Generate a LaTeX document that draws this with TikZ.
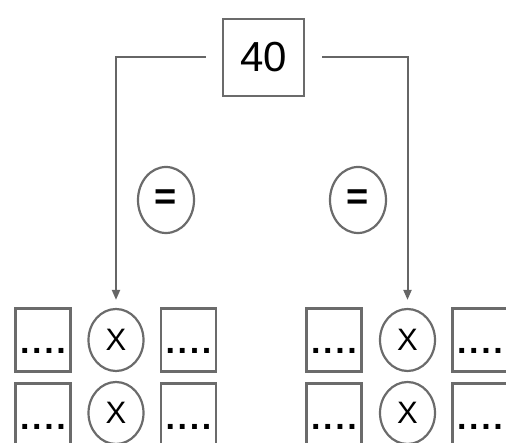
\documentclass[tikz,border=0pt]{standalone}
\usepackage{fontspec}
\setmainfont{Liberation Sans}
\usetikzlibrary{shapes.geometric,arrows.meta}
\begin{document}
\begin{tikzpicture}[x=1pt,y=-1pt,
  ln/.style={draw=black!58, line width=2.2pt},
  sq/.style={ln, rectangle, minimum width=55pt, minimum height=63pt, inner sep=0pt, fill=white,
    font=\fontsize{34}{34}\bfseries},
  ov/.style={ln, ellipse, minimum width=55pt, minimum height=62pt, inner sep=0pt,
    font=\fontsize{31}{31}\selectfont},
  eqc/.style={ln, ellipse, minimum width=56pt, minimum height=66pt, inner sep=0pt,
    font=\fontsize{38}{38}\bfseries},
  conn/.style={draw=black!60, line width=2pt, -{Triangle[length=10pt,width=8pt]}}
]
\useasboundingbox (0,0) rectangle (506,443);
\clip (0,0) rectangle (506,443);
\newcommand{\dts}{\smash{\raisebox{-14pt}{.\kern2.6pt.\kern2.6pt.\kern2.6pt.}}}
% top
\node[ln, rectangle, minimum width=81pt, minimum height=77pt, inner sep=0pt,
  font=\fontsize{42}{42}\selectfont] (t) at (263.5,57.5) {40};
% equals
\node[eqc] (e1) at (166,200) {=};
\node[eqc] (e2) at (358,200) {=};
% left group
\node[sq] (b11) at (43,340) {\dts};
\node[ov] (c11) at (116,340) {X};
\node[sq] (d11) at (188.5,340) {\dts};
\node[sq] (b12) at (43,415) {\dts};
\node[ov] (c12) at (116,413) {X};
\node[sq] (d12) at (188.5,415) {\dts};
% right group
\node[sq] (b21) at (334,340) {\dts};
\node[ov] (c21) at (407.5,340) {X};
\node[sq] (d21) at (480,340) {\dts};
\node[sq] (b22) at (334,415) {\dts};
\node[ov] (c22) at (407.5,413) {X};
\node[sq] (d22) at (480,415) {\dts};
% connectors
\draw[conn, shorten <=16pt, shorten >=8pt] (t.west) -| (c11.north);
\draw[conn, shorten <=17pt, shorten >=8pt] (t.east) -| (c21.north);
\end{tikzpicture}
\end{document}
